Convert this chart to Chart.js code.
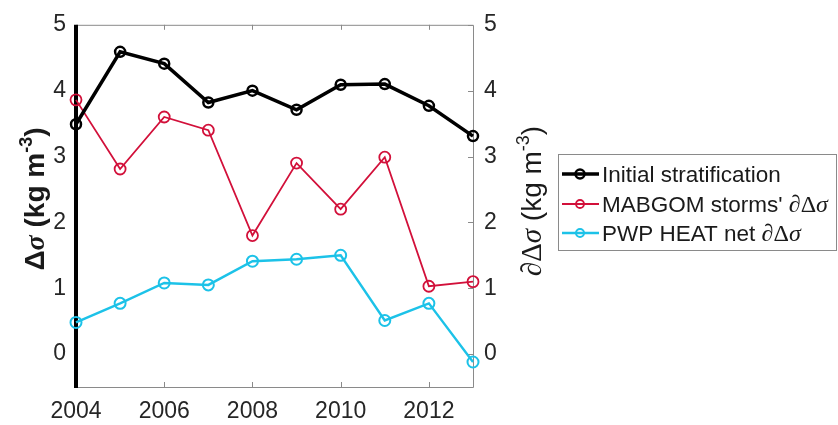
<!DOCTYPE html>
<html>
<head>
<meta charset="utf-8">
<script src="https://cdn.jsdelivr.net/npm/chart.js@4.4.0/dist/chart.umd.min.js"></script>
<style>
html,body{margin:0;padding:0;background:#fff;}
#wrap{width:838px;height:425px;}
</style>
</head>
<body>
<div id="wrap"><canvas id="c" width="838" height="425"></canvas></div>
<script>
const years = [2004, 2005, 2006, 2007, 2008, 2009, 2010, 2011, 2012, 2013];
const initialStrat = [3.49, 4.59, 4.41, 3.82, 4.00, 3.71, 4.09, 4.10, 3.77, 3.31];
const stormsDelta = [3.86, 2.81, 3.60, 3.40, 1.80, 2.90, 2.20, 2.99, 1.03, 1.10];
const heatDelta = [0.48, 0.77, 1.08, 1.05, 1.41, 1.44, 1.50, 0.51, 0.77, -0.12];
const xTickValues = [2004, 2006, 2008, 2010, 2012];
const yTickValues = [0, 1, 2, 3, 4, 5];
const seriesLabels = ["Initial stratification", "MABGOM storms' ", "PWP HEAT net "];
const seriesColors = ["#000000", "#D2103A", "#1CC2E8"];

const SANS = '"Liberation Sans", Arial, sans-serif';
const SERIF = '"Liberation Serif", "Times New Roman", serif';

function pts(vals){ return years.map((yr,i)=>({x:yr, y:vals[i]})); }

function drawSegs(ctx, segs, cx, cy, rotate){
  ctx.save();
  ctx.translate(cx, cy);
  if (rotate) ctx.rotate(-Math.PI/2);
  ctx.textBaseline = 'alphabetic';
  let total = 0;
  segs.forEach(s=>{ ctx.font = s.f; s.w = ctx.measureText(s.t).width; total += s.w; });
  let x = rotate ? -total/2 : 0;
  segs.forEach(s=>{
    ctx.font = s.f; ctx.fillStyle = s.c || '#1a1a1a';
    ctx.fillText(s.t, x, (s.dy||0));
    x += s.w;
  });
  ctx.restore();
}

const framePlugin = {
  id: 'frame',
  beforeDatasetsDraw(chart){
    const ctx = chart.ctx, a = chart.chartArea;
    const xs = chart.scales.x, yr = chart.scales.y2;
    ctx.save();
    ctx.strokeStyle = '#8a8a8a';
    ctx.lineWidth = 1;
    ctx.beginPath();
    ctx.moveTo(a.left, a.top+0.5); ctx.lineTo(a.right+0.5, a.top+0.5);
    ctx.lineTo(a.right+0.5, a.bottom+0.5); ctx.lineTo(a.left, a.bottom+0.5);
    ctx.stroke();
    ctx.beginPath();
    xTickValues.forEach(v=>{
      const px = Math.round(xs.getPixelForValue(v))+0.5;
      if (px < a.left + 4) return;
      ctx.moveTo(px, a.top); ctx.lineTo(px, a.top+5);
      ctx.moveTo(px, a.bottom); ctx.lineTo(px, a.bottom-5);
    });
    yTickValues.forEach(v=>{
      const py = Math.round(yr.getPixelForValue(v))+0.5;
      ctx.moveTo(a.right, py); ctx.lineTo(a.right-5, py);
    });
    ctx.stroke();
    ctx.strokeStyle = '#000';
    ctx.lineWidth = 4;
    ctx.beginPath();
    ctx.moveTo(a.left, a.top); ctx.lineTo(a.left, a.bottom+1);
    ctx.stroke();
    ctx.restore();
  },
  afterDraw(chart){
    const ctx = chart.ctx;
    // axis titles
    drawSegs(ctx, [
      {t:'Δ', f:'bold 28px '+SANS},
      {t:'σ', f:'italic bold 28px '+SERIF},
      {t:' (kg m', f:'bold 28px '+SANS},
      {t:'-3', f:'bold 18px '+SANS, dy:-12},
      {t:')', f:'bold 28px '+SANS}
    ], 44, 199, true);
    drawSegs(ctx, [
      {t:'∂', f:'italic 29px '+SERIF},
      {t:'Δ', f:'29px '+SERIF},
      {t:'σ', f:'italic 29px '+SERIF},
      {t:' (kg m', f:'28px '+SANS},
      {t:'-3', f:'18px '+SANS, dy:-12},
      {t:')', f:'28px '+SANS}
    ], 541, 201, true);
    // legend
    const L = {x:558, y:154, w:278, h:96};
    ctx.save();
    ctx.fillStyle = '#fff';
    ctx.fillRect(L.x, L.y, L.w, L.h);
    ctx.strokeStyle = '#8a8a8a'; ctx.lineWidth = 1;
    ctx.strokeRect(L.x+0.5, L.y+0.5, L.w, L.h);
    const rows = [174, 204, 233];
    chart.data.datasets.forEach((ds, i)=>{
      const cy = rows[i];
      ctx.strokeStyle = ds.borderColor;
      ctx.lineWidth = ds.borderWidth;
      ctx.beginPath(); ctx.moveTo(562, cy); ctx.lineTo(599, cy); ctx.stroke();
      ctx.lineWidth = ds.pointBorderWidth;
      ctx.beginPath(); ctx.arc(580, cy, i===0?4.5:4, 0, Math.PI*2); ctx.stroke();
      const segs = [{t:ds.label, f:'22.5px '+SANS}];
      if (i > 0) {
        segs.push({t:'∂', f:'italic 24px '+SERIF});
        segs.push({t:'Δ', f:'24px '+SERIF});
        segs.push({t:'σ', f:'italic 24px '+SERIF});
      }
      drawSegs(ctx, segs, 602, cy+8, false);
    });
    ctx.restore();
  }
};

new Chart(document.getElementById('c'), {
  type: 'line',
  data: {
    datasets: [
      {label: seriesLabels[0], data: pts(initialStrat), borderColor: seriesColors[0], borderWidth: 3.5,
       pointRadius: 5, pointBorderWidth: 2.5, pointBackgroundColor: 'rgba(0,0,0,0)', pointBorderColor: seriesColors[0], yAxisID: 'y'},
      {label: seriesLabels[1], data: pts(stormsDelta), borderColor: seriesColors[1], borderWidth: 1.8,
       pointRadius: 5.5, pointBorderWidth: 1.8, pointBackgroundColor: 'rgba(0,0,0,0)', pointBorderColor: seriesColors[1], yAxisID: 'y'},
      {label: seriesLabels[2], data: pts(heatDelta), borderColor: seriesColors[2], borderWidth: 2.4,
       pointRadius: 5.5, pointBorderWidth: 2, pointBackgroundColor: 'rgba(0,0,0,0)', pointBorderColor: seriesColors[2], yAxisID: 'y'}
    ]
  },
  options: {
    responsive: false,
    animation: false,
    clip: false,
    layout: {padding: {top: 17, left: 0, right: 0, bottom: 0}},
    plugins: {legend: {display: false}, tooltip: {enabled: false}},
    elements: {line: {tension: 0}},
    scales: {
      x: {
        type: 'linear', min: 2004, max: 2013,
        afterBuildTicks: s => { s.ticks = xTickValues.map(v=>({value:v})); },
        afterFit: s => { s.height = 38; },
        grid: {display: false, drawTicks: false},
        border: {display: false},
        ticks: {padding: 11, color: '#262626', font: {family: SANS, size: 23}, callback: v => String(v), maxRotation: 0}
      },
      y: {
        position: 'left', min: -0.5, max: 5,
        afterBuildTicks: s => { s.ticks = yTickValues.map(v=>({value:v})); },
        afterFit: s => { s.width = 76; },
        grid: {display: false, drawTicks: false},
        border: {display: false},
        ticks: {padding: 10, color: '#262626', font: {family: SANS, size: 23}}
      },
      y2: {
        position: 'right', min: -0.5, max: 5,
        afterBuildTicks: s => { s.ticks = yTickValues.map(v=>({value:v})); },
        afterFit: s => { s.width = 365; },
        grid: {display: false, drawTicks: false},
        border: {display: false},
        ticks: {padding: 11, color: '#262626', font: {family: SANS, size: 23}}
      }
    }
  },
  plugins: [framePlugin]
});
</script>
</body>
</html>
